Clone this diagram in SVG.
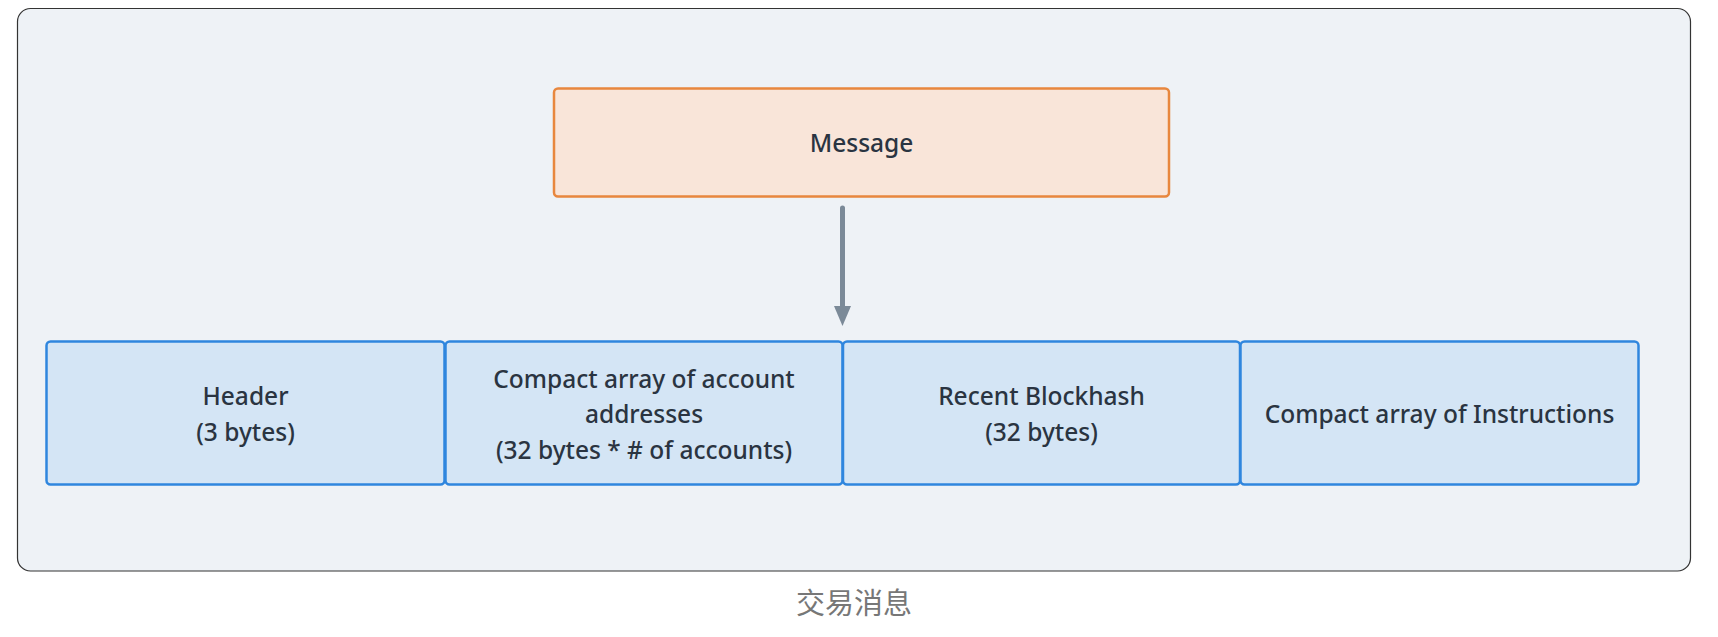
<svg xmlns="http://www.w3.org/2000/svg" width="1718" height="637" viewBox="0 0 1718 637">
<style>
.t{font-family:"Noto Sans","Open Sans","DejaVu Sans",sans-serif;font-size:24.5px;font-weight:500;fill:#2a3441;text-anchor:middle;dominant-baseline:central}
.blue{fill:#d4e5f5;stroke:#2f86de;stroke-width:2.5}
.cap{font-family:"Noto Sans CJK SC","Noto Sans",sans-serif;font-size:29px;fill:#777777;text-anchor:middle;dominant-baseline:central}
</style>
<defs>
<marker id="ah" markerWidth="4" markerHeight="4" refX="2" refY="2" orient="auto" markerUnits="strokeWidth" viewBox="0 0 4 4">
<path d="M0,0.3 L4,2 L0,3.7 Z" fill="#7b8a98"/>
</marker>
</defs>
<rect x="0" y="0" width="1718" height="637" fill="#ffffff"/>
<g id="container">
<rect x="17.5" y="8.5" width="1673" height="562.5" rx="13" fill="#eef2f6" stroke="#333" stroke-width="1.2"/>
</g>
<g id="message">
<rect x="554" y="88.5" width="615" height="108" rx="4" fill="#f9e5d9" stroke="#e8873e" stroke-width="2.5"/>
<text class="t" x="861.5" y="142">Message</text>
</g>
<g id="connectors">
<line x1="842.5" y1="208" x2="842.5" y2="316" stroke="#7b8a98" stroke-width="5" stroke-linecap="round" marker-end="url(#ah)"/>
</g>
<g id="header">
<rect class="blue" x="46.5" y="341.5" width="398" height="143" rx="4"/>
<text class="t" x="245.5" y="395">Header</text>
<text class="t" x="245.5" y="431">(3 bytes)</text>
</g>
<g id="accounts">
<rect class="blue" x="445.5" y="341.5" width="397" height="143" rx="4"/>
<text class="t" x="644" y="378">Compact array of account</text>
<text class="t" x="644" y="413.5">addresses</text>
<text class="t" x="644" y="449">(32 bytes * # of accounts)</text>
</g>
<g id="blockhash">
<rect class="blue" x="843" y="341.5" width="397" height="143" rx="4"/>
<text class="t" x="1041.5" y="395">Recent Blockhash</text>
<text class="t" x="1041.5" y="431">(32 bytes)</text>
</g>
<g id="instructions">
<rect class="blue" x="1240.5" y="341.5" width="398" height="143" rx="4"/>
<text class="t" x="1439.5" y="413.5">Compact array of Instructions</text>
</g>
<text class="cap" x="854" y="601">交易消息</text>
</svg>
